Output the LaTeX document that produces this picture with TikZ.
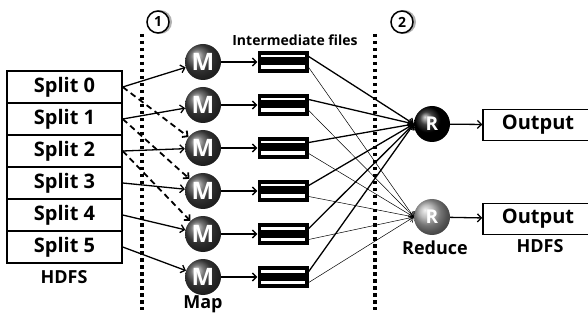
\documentclass[tikz,border=0pt]{standalone}
\usepackage{fontspec}
\setmainfont{Open Sans}
\usetikzlibrary{calc, positioning, shadings, arrows.meta}

\tikzset{
	arr/.style = {-{Straight Barb[length=4pt, width=8pt]}},
	splitbox/.style = {draw, line width=1.4pt, minimum width=115, minimum height=32, inner sep=0pt, font=\bfseries\fontsize{20}{22}\selectfont},
	outbox/.style = {draw, line width=1.4pt, minimum width=110, minimum height=31, inner sep=0pt, font=\bfseries\fontsize{20}{22}\selectfont},
	mapper/.style = {circle, shading=ball, ball color=gray!55!black, minimum size=36, inner sep=0pt, text=white, font=\bfseries\fontsize{24}{26}\selectfont},
	reducer/.style = {circle, shading=ball, minimum size=36, inner sep=0pt, text=white, font=\bfseries\fontsize{19}{21}\selectfont},
	ifile/.style = {fill=black, minimum width=51, minimum height=22, inner sep=0pt},
	stepno/.style = {circle, draw, line width=1.5pt, fill=white, minimum size=22, inner sep=0pt, font=\bfseries\fontsize{14}{16}\selectfont},
	divider/.style = {line width=3.5pt, dash pattern=on 3.5pt off 3.5pt},
	lbl/.style = {inner sep=0pt, font=\bfseries\fontsize{18}{20}\selectfont},
}

\begin{document}
\begin{tikzpicture}[x=1pt, y=-1pt]
		\useasboundingbox (0,0) rectangle (588,320);
		
		% input splits
		\foreach \i in {0,...,5}
			\node [splitbox] (s\i) at (64.5, {87+32*\i}) {Split \i};
		\node [lbl] (hdfsin) at (64,277) {HDFS};
		
		% map and intermediate files
		\foreach \i in {0,...,5} {
			\node [mapper] (m\i) at (203, {62+43*\i}) {M};
			\node [ifile] (f\i) at (283, {62+43*\i}) {};
			\fill [white] ($ (f\i.west) + (4,-7) $) rectangle ($ (f\i.east) + (-4,-4.5) $);
			\fill [white] ($ (f\i.west) + (4,3.5) $) rectangle ($ (f\i.east) + (-4,7) $);
			\coordinate (fa\i) at ($ (f\i.east) + (0,-5.5) $);
			\coordinate (fb\i) at ($ (f\i.east) + (0,5.5) $);
		}
		\node [lbl] (maplbl) at (203,304) {Map};
		\node [lbl, font=\bfseries\fontsize{14}{16}\selectfont] (filelbl) at (295,40) {Intermediate files};
		
		% reduce and output
		\node [reducer, ball color=black] (r0) at (432,124) {R};
		\node [reducer, ball color=gray!70] (r1) at (432,217) {R};
		\node [lbl] (redlbl) at (435,248) {Reduce};
		\node [outbox] (o0) at (538,125) {Output};
		\node [outbox] (o1) at (538,219) {Output};
		\node [lbl] (hdfsout) at (540,246) {HDFS};
		
		% phase borders
		\coordinate (d1top) at (142,34);
		\coordinate (d1bot) at (142,310);
		\coordinate (d2top) at (375,34);
		\coordinate (d2bot) at (375,310);
		\draw [divider] (d1top) -- (d1bot);
		\draw [divider] (d2top) -- (d2bot);
		\begin{scope}
			\fill [gray!60] (160,22) circle [radius = 12];
			\node [stepno] (n1) at (158,22) {1};
			\fill [gray!60] (404,22) circle [radius = 12];
			\node [stepno] (n2) at (402,22) {2};
		\end{scope}
		
		\begin{scope}[arr, line width=1.3pt]
			\foreach \i in {0,...,5} {
				\draw (s\i.east) -- (m\i);
				\draw (m\i) -- (f\i);
			}
			\foreach \i/\j in {0/2, 1/3, 2/4}
				\draw [dash pattern=on 6pt off 4pt, line width=1.8pt] (s\i.east) -- (m\j);
		\end{scope}
		
		\begin{scope}[arr]
			\foreach \i in {0,...,5} {
				\draw [line width=1.3pt] (fa\i) -- (r0.west);
				\draw [line width=0.5pt] (fb\i) -- (r1.west);
			}
			\draw [line width=1.3pt] (r0) -- (o0);
			\draw [line width=1.3pt] (r1) -- (o1);
		\end{scope}
	\end{tikzpicture}
\end{document}
